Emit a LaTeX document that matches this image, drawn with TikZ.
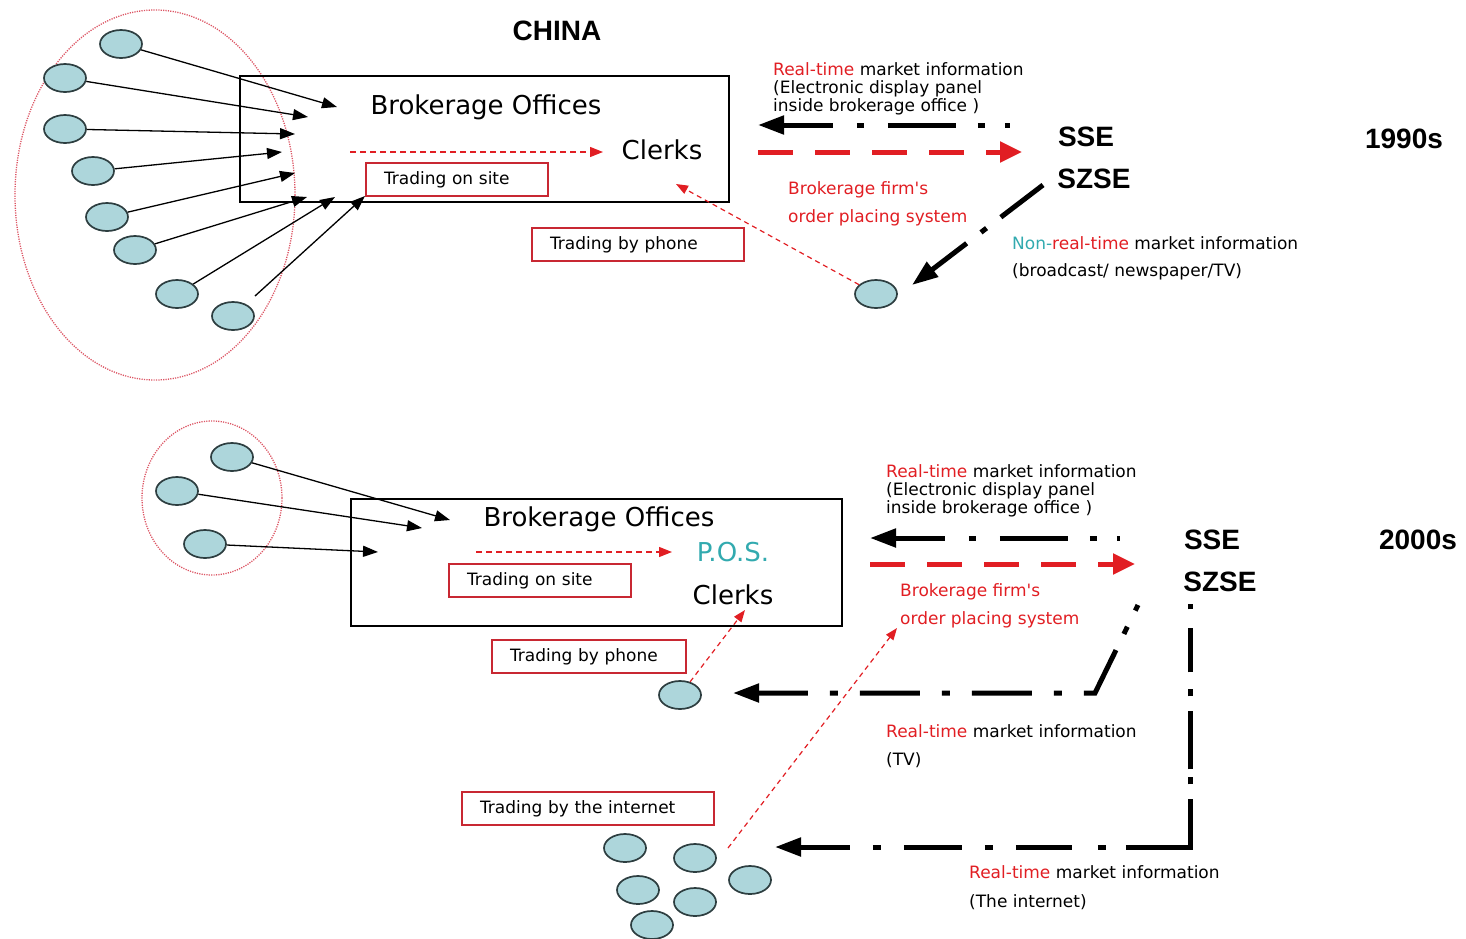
\documentclass[tikz,border=0pt]{standalone}
\usepackage{fontspec}
\setmainfont{DejaVu Sans}[Ligatures=TeXOff]
\newfontfamily\arialf{Liberation Sans}
\usetikzlibrary{arrows.meta,shapes.geometric}
\definecolor{cfill}{RGB}{173,214,219}
\definecolor{cdraw}{RGB}{45,62,64}
\definecolor{rtred}{RGB}{225,30,35}
\definecolor{bxred}{RGB}{200,40,50}
\definecolor{tealc}{RGB}{50,170,175}
\definecolor{elred}{RGB}{220,85,100}
\tikzset{
  person/.style={ellipse,draw=cdraw,line width=1.7pt,fill=cfill,minimum width=42pt,minimum height=28pt,inner sep=0pt},
  big/.style={font=\fontsize{26}{30}\selectfont,inner sep=0pt},
  small/.style={font=\fontsize{17}{18}\selectfont,inner sep=0pt,anchor=base west},
  redsmall/.style={small,text=rtred},
  lab/.style={font=\arialf\bfseries\fontsize{28}{32}\selectfont,inner sep=0pt},
  redbox/.style={draw=bxred,line width=1.3pt,font=\fontsize{17}{18}\selectfont,minimum height=33pt,inner xsep=18pt,inner ysep=0pt,align=left},
  office/.style={draw=black,line width=1.3pt,inner sep=0pt},
  inarrow/.style={line width=1.3pt,-{Triangle[length=15pt,width=11pt]}},
  reddot/.style={draw=rtred,line width=1.2pt,dash pattern=on 5pt off 4pt,-{Triangle[length=12pt,width=9pt]}},
  redfine/.style={draw=rtred,line width=1.2pt,dash pattern=on 6pt off 4pt,-{Triangle[length=13pt,width=10pt]}},
  thickred/.style={draw=rtred,line width=5pt,dash pattern=on 35pt off 22pt,-{Triangle[length=22pt,width=20pt]}},
  bktip/.style={draw=black,line width=5pt,{Triangle[length=26pt,width=18pt]}-},
  bkh/.style={bktip,dash pattern=on 50pt off 24pt on 7pt off 24pt on 68pt off 22pt on 7pt off 20pt on 10pt off 200pt},
  grp/.style={draw=elred,line width=1.3pt,dash pattern=on 1.2pt off 1.2pt}
}
\begin{document}
\begin{tikzpicture}[x=1pt,y=-1pt]
\useasboundingbox (0,0) rectangle (1466,938);
% ================= 1990s =================
\draw[grp] (155,195) ellipse [x radius=140, y radius=185];
\node[office,minimum width=489pt,minimum height=126pt] (off1) at (484.5,139) {};
\node[lab] (china) at (557,31) {CHINA};
\node[big] (bo1) at (486,107) {Brokerage Offices};
\node[big] (clerks1) at (662,150) {Clerks};
\node[redbox,text width=146pt] (ts1) at (457,179.5) {Trading on site};
\node[redbox,text width=176pt] (tp1) at (638,244.5) {Trading by phone};
\foreach \n/\x/\y in {c1/121/44,c2/65/78,c3/65/129,c4/93/171,c5/107/217,c6/135/250,c7/177/294,c8/233/316,p1/876/294}
  \node[person] (\n) at (\x,\y) {};
\coordinate (t1) at (337,107);
\coordinate (t2) at (308,117);
\coordinate (t3) at (295,134);
\coordinate (t4) at (282,152);
\coordinate (t5) at (295,173);
\coordinate (t6) at (307,197);
\coordinate (t7) at (335,197);
\coordinate (t8) at (365,196);
\foreach \i in {1,...,7} \draw[inarrow] (c\i) -- (t\i);
\draw[inarrow,shorten <=12pt] (c8) -- (t8);
\coordinate (s1a) at (350,152);
\coordinate (s1b) at (603,152);
\draw[redfine] (s1a) -- (s1b);
\coordinate (ph1) at (676,184);
\draw[reddot] (p1) -- (ph1);
\node[small] (rt1a) at (773,75) {\textcolor{rtred}{Real-time} market information};
\node[small] (rt1b) at (773,93) {(Electronic display panel};
\node[small] (rt1c) at (773,111) {inside brokerage office )};
\node[lab] (sse1) at (1086,137) {SSE};
\node[lab] (szse1) at (1094,179) {SZSE};
\node[lab] (y1990) at (1404,139) {1990s};
\node[redsmall] (bf1a) at (788,194) {Brokerage firm's};
\node[redsmall] (bf1b) at (788,222) {order placing system};
\node[small] (nrt1) at (1012,249) {\textcolor{tealc}{Non-}\textcolor{rtred}{real-time} market information};
\node[small] (nrt2) at (1012,276) {(broadcast/ newspaper/TV)};
\coordinate (b1l) at (758,125);
\coordinate (b1r) at (1010,125);
\draw[bkh] (b1l) -- (b1r);
\coordinate (r1l) at (758,152);
\coordinate (r1r) at (1022,152);
\draw[thickred] (r1l) -- (r1r);
\coordinate (dgt) at (912,285);
\coordinate (dgs) at (1043,185);
\draw[bktip,dash pattern=on 44pt off 18pt on 7pt off 18pt on 80pt off 100pt] (dgt) -- (dgs);
% ================= 2000s =================
\draw[grp] (212,498) ellipse [x radius=70, y radius=77];
\node[office,minimum width=491pt,minimum height=127pt] (off2) at (596.5,562.5) {};
\node[big] (bo2) at (599,519) {Brokerage Offices};
\node[big,text=tealc] (pos) at (733,552) {P.O.S.};
\node[big] (clerks2) at (733,595) {Clerks};
\node[redbox,text width=146pt] (ts2) at (540,580.5) {Trading on site};
\node[redbox,text width=158pt] (tp2) at (589,656.5) {Trading by phone};
\node[redbox,text width=216pt] (ti) at (588,808.5) {Trading by the internet};
\foreach \n/\x/\y in {d1/232/457,d2/177/491,d3/205/544,p2/680/695,i1/625/848,i2/695/858,i3/638/890,i4/750/880,i5/695/902,i6/652/925}
  \node[person] (\n) at (\x,\y) {};
\coordinate (e1) at (450,520);
\coordinate (e2) at (422,528);
\coordinate (e3) at (378,552);
\foreach \i in {1,2,3} \draw[inarrow] (d\i) -- (e\i);
\coordinate (s2a) at (476,552);
\coordinate (s2b) at (672,552);
\draw[redfine] (s2a) -- (s2b);
\coordinate (ph2) at (745,610);
\draw[reddot] (p2) -- (ph2);
\coordinate (in0) at (728,848);
\coordinate (in1) at (897,628);
\draw[reddot] (in0) -- (in1);
\node[small] (rt2a) at (886,477) {\textcolor{rtred}{Real-time} market information};
\node[small] (rt2b) at (886,495) {(Electronic display panel};
\node[small] (rt2c) at (886,513) {inside brokerage office )};
\node[lab] (sse2) at (1212,540) {SSE};
\node[lab] (szse2) at (1220,582) {SZSE};
\node[lab] (y2000) at (1418,540) {2000s};
\node[redsmall] (bf2a) at (900,596) {Brokerage firm's};
\node[redsmall] (bf2b) at (900,624) {order placing system};
\node[small] (rt3a) at (886,737) {\textcolor{rtred}{Real-time} market information};
\node[small] (rt3b) at (886,765) {(TV)};
\node[small] (rt4a) at (969,878) {\textcolor{rtred}{Real-time} market information};
\node[small] (rt4b) at (969,907) {(The internet)};
\coordinate (b2l) at (870,538);
\coordinate (b2r) at (1120,538);
\draw[bkh] (b2l) -- (b2r);
\coordinate (r2l) at (870,564);
\coordinate (r2r) at (1135,564);
\draw[thickred] (r2l) -- (r2r);
\coordinate (tvt) at (733,693);
\coordinate (tvc) at (1095,693);
\coordinate (tvs) at (1138,605);
\draw[bktip,line join=miter,dash pattern=on 50pt off 22pt on 8pt off 22pt on 60pt off 22pt on 8pt off 22pt on 60pt off 22pt on 8pt off 22pt on 59pt off 18pt on 8pt off 18pt on 8pt off 200pt] (tvt) -- (tvc) -- (tvs);
\coordinate (itt) at (775,847);
\coordinate (itc) at (1190,847);
\coordinate (its) at (1190,604);
\draw[bktip,line join=miter,dash pattern=on 50pt off 23pt on 8pt off 23pt on 58pt off 23pt on 8pt off 23pt on 56pt off 26pt on 8pt off 20pt on 112pt off 15pt on 7pt off 8pt on 58pt off 15pt on 7pt off 17pt on 44pt off 19pt on 6pt off 200pt] (itt) -- (itc) -- (its);
\end{tikzpicture}
\end{document}
